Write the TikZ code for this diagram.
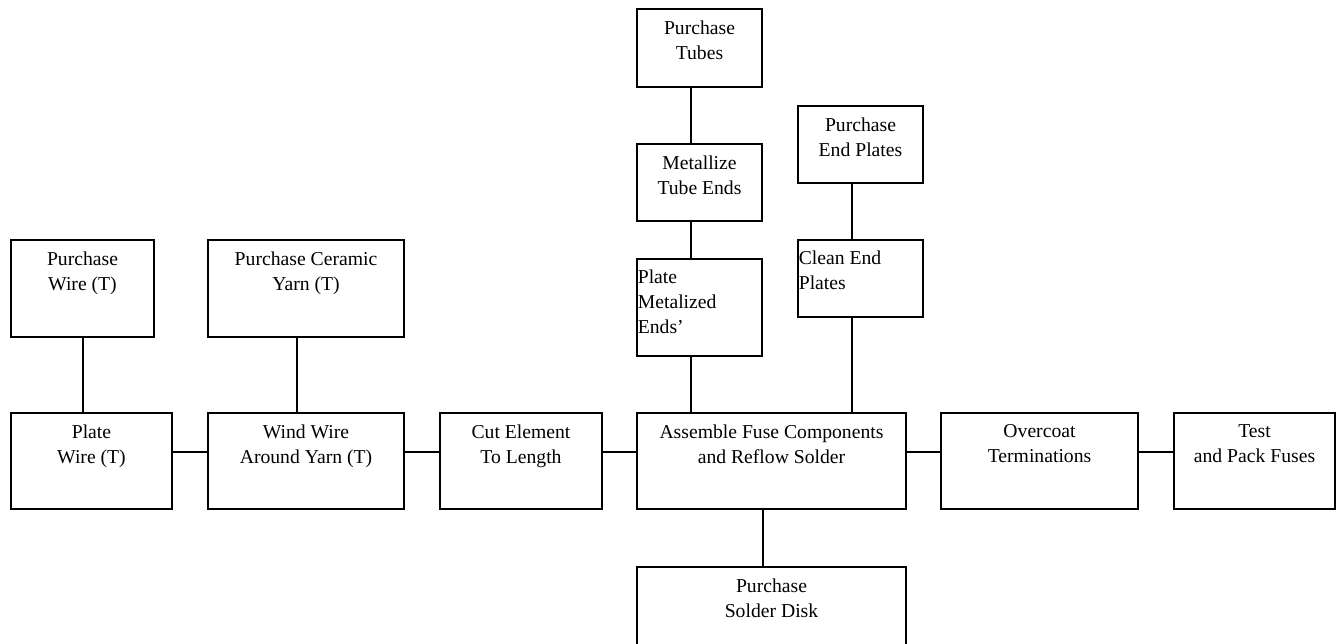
\documentclass[tikz,border=0pt]{standalone}
\usepackage{fontspec}
\setmainfont{Liberation Serif}
\usetikzlibrary{positioning}

\begin{document}
\begin{tikzpicture}[
    font = \fontsize{11.8}{15}\selectfont,
    line width = 1pt,
    main/.style 2 args = {draw, rectangle, inner sep = 0pt,
        minimum width = #1, minimum height = #2},
    ctext/.style = {anchor = north, align = center, inner sep = 7pt},
    ltext/.style = {anchor = north west, align = left,
        inner xsep = 0.5pt, inner ysep = 6.3pt}
]

\useasboundingbox (0,0) rectangle (805.2pt,-385.8pt);

% Main process line
\node[main={96.6pt}{57.6pt}, label={[ctext]north:{Plate\\Wire (T)}}] (1) at (54.9pt,-276.6pt) {};
\node[main={117.6pt}{57.6pt}, right=20.6pt of 1, label={[ctext]north:{Wind Wire\\Around Yarn (T)}}] (2) {};
\node[main={97.2pt}{57.6pt}, right=20.6pt of 2, label={[ctext]north:{Cut Element\\To Length}}] (3) {};
\node[main={161.4pt}{57.6pt}, right=20pt of 3, label={[ctext]north:{Assemble Fuse Components\\and Reflow Solder}}] (4) {};
\node[main={118.2pt}{57.6pt}, right=20pt of 4, label={[ctext]north:{Overcoat\\Terminations}}] (5) {};
\node[main={96.6pt}{57.6pt}, right=20.6pt of 5, label={[ctext]north:{Test\\and Pack Fuses}}] (6) {};

% Purchased wire and yarn
\node[main={85.8pt}{58.2pt}, above=44.6pt of 1.north west, anchor=south west, label={[ctext]north:{Purchase\\Wire (T)}}] (7) {};
\node[main={117.6pt}{58.2pt}, above=44.6pt of 2, label={[ctext]north:{Purchase Ceramic\\Yarn (T)}}] (8) {};

% Tube branch
\node[main={75pt}{58.2pt}, above=33.2pt of 4.north west, anchor=south west, label={[ltext]north west:{Plate\\Metalized\\Ends'}}] (11) {};
\node[main={75pt}{46.2pt}, above=21.8pt of 11, label={[ctext]north:{Metallize\\Tube Ends}}] (10) {};
\node[main={75pt}{46.8pt}, above=33.2pt of 10, label={[ctext]north:{Purchase\\Tubes}}] (9) {};

% End plate branch
\node[main={75pt}{46.2pt}, above=56.6pt of 4.north west, anchor=south west, xshift=96.6pt, label={[ltext]north west:{Clean End\\Plates}}] (13) {};
\node[main={75pt}{46.2pt}, above=33.2pt of 13, label={[ctext]north:{Purchase\\End Plates}}] (12) {};

% Solder disk
\node[main={161.4pt}{57.6pt}, below=33.8pt of 4, label={[ctext]north:{Purchase\\Solder Disk}}] (14) {};

% Connections along the line
\foreach \a/\b in {1/2, 2/3, 3/4, 4/5, 5/6}
    \draw ([yshift=5.4pt]\a.east) -- ([yshift=5.4pt]\b.west);

% Feeder connections
\draw ([xshift=-5.1pt]1.north) -- ([xshift=-5.1pt]1.north |- 7.south);
\draw ([xshift=-5.4pt]2.north) -- ([xshift=-5.4pt]2.north |- 8.south);

\draw ([xshift=-5.1pt]9.south)  -- ([xshift=-5.1pt]10.north);
\draw ([xshift=-5.1pt]10.south) -- ([xshift=-5.1pt]11.north);
\draw ([xshift=-5.1pt]11.south) -- ([xshift=-5.1pt]11.south |- 4.north);

\draw ([xshift=-5.1pt]12.south) -- ([xshift=-5.1pt]13.north);
\draw ([xshift=-5.1pt]13.south) -- ([xshift=-5.1pt]13.south |- 4.north);

\draw ([xshift=-5.1pt]4.south) -- ([xshift=-5.1pt]14.north);

\end{tikzpicture}
\end{document}
